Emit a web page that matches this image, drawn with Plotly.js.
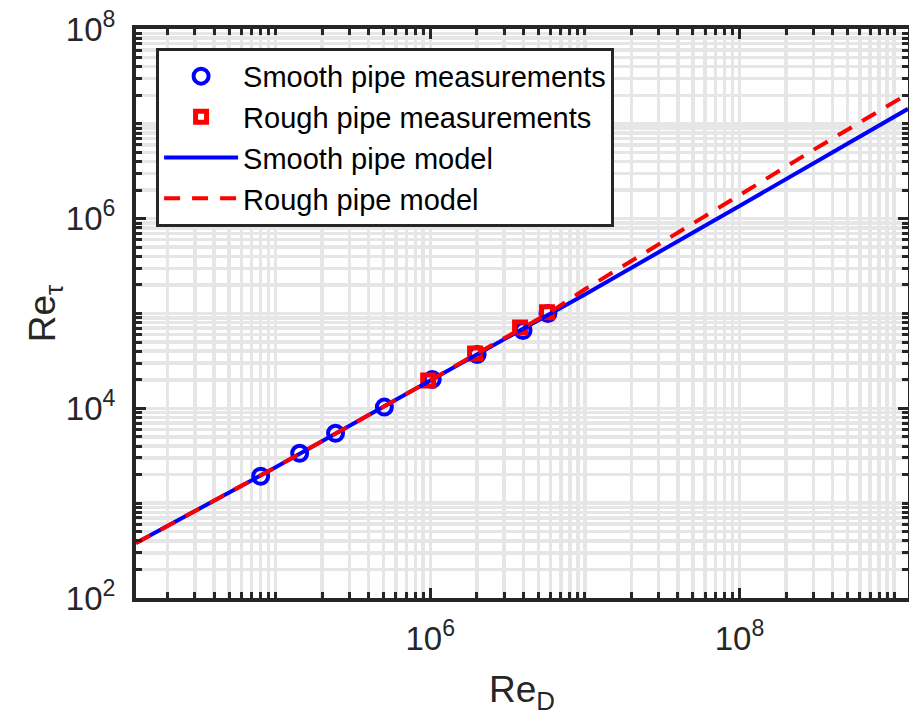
<!DOCTYPE html>
<html>
<head>
<meta charset="utf-8">
<script src="https://cdn.plot.ly/plotly-3.0.1.min.js"></script>
<style>html,body{margin:0;padding:0;background:#fff;}#chart{width:909px;height:726px;}</style>
</head>
<body>
<div id="chart"></div>
<script>
// Measurements
const smoothReD   = [8.0e4, 1.43e5, 2.44e5, 5.05e5, 1.03e6, 2.01e6, 3.98e6, 5.77e6];
const smoothRetau = [1923, 3357, 5458, 10300, 20200, 37000, 66200, 100000];
const roughReD    = [9.7e5, 1.95e6, 3.81e6, 5.69e6];
const roughRetau  = [19700, 37900, 71200, 103000];
// Models
const smoothModelReD   = [1.25e4, 1e5, 1e6, 1e7, 1e8, 5.9e8, 1.23e9];
const smoothModelRetau = [380, 2390, 19700, 159000, 1360000, 7200000, 14400000];
const roughModelReD    = [1.25e4, 1e5, 1e6, 2e6, 4e6, 6e6, 1e7, 3e7, 1e8, 3e8, 5.9e8, 1.23e9];
const roughModelRetau  = [380, 2390, 19700, 38000, 71000, 104000, 180000, 530000, 1770000, 5300000, 10300000, 20700000];
// Tick labels
const xTickVals = [1e6, 1e8];
const xTickText = ['10<sup>6</sup>', '10<sup>8</sup>'];
const yTickVals = [1e2, 1e4, 1e6, 1e8];
const yTickText = ['10<sup>2</sup>', '10<sup>4</sup>', '10<sup>6</sup>', '10<sup>8</sup>'];

function minorVals(k0, k1, majors) {
  const out = [];
  for (let k = k0; k <= k1; k++) {
    for (let m = 1; m <= 9; m++) {
      const v = m * Math.pow(10, k);
      if (!majors.some(t => Math.abs(t - v) / v < 1e-9)) out.push(v);
    }
  }
  return out;
}

const FONT = 'Liberation Sans, Arial, Helvetica, sans-serif';
const DARK = '#262626';
const GRID = '#e6e6e6';

const traces = [
  {x: smoothModelReD, y: smoothModelRetau, mode: 'lines', name: 'Smooth pipe model',
   line: {color: '#0000ff', width: 4}},
  {x: roughModelReD, y: roughModelRetau, mode: 'lines', name: 'Rough pipe model',
   line: {color: '#ff0000', width: 4, dash: '16px,12px'}},
  {x: smoothReD, y: smoothRetau, mode: 'markers', name: 'Smooth pipe measurements',
   marker: {symbol: 'circle-open', size: 15, color: '#0000ff', line: {color: '#0000ff', width: 4}}},
  {x: roughReD, y: roughRetau, mode: 'markers', name: 'Rough pipe measurements',
   marker: {symbol: 'square-open', size: 11, color: '#ff0000', line: {color: '#ff0000', width: 5}}}
];

const layout = {
  width: 909, height: 726,
  margin: {l: 136, r: 1, t: 29, b: 128},
  paper_bgcolor: '#fff', plot_bgcolor: '#fff',
  font: {family: FONT, color: DARK, size: 29},
  showlegend: true,
  legend: {
    x: 0.026, y: 0.967, xanchor: 'left', yanchor: 'top',
    bgcolor: '#fff', bordercolor: DARK, borderwidth: 3,
    font: {family: FONT, size: 29, color: '#000'},
    traceorder: 'normal', itemwidth: 74,
  },
  xaxis: {
    type: 'log', range: [Math.log10(1.25e4), Math.log10(1.23e9)],
    tickmode: 'array', tickvals: xTickVals, ticktext: xTickText,
    ticks: 'inside', ticklen: 10, tickwidth: 3, tickcolor: DARK,
    showline: true, linecolor: DARK, linewidth: 4, mirror: 'ticks',
    showgrid: true, gridcolor: GRID, gridwidth: 3.5,
    tickfont: {family: FONT, size: 33, color: DARK},
    ticklabelstandoff: 8,
    minor: {tickmode: 'array', tickvals: minorVals(4, 9, xTickVals), ticks: 'inside', ticklen: 6,
            tickwidth: 3, tickcolor: DARK, showgrid: true, gridcolor: GRID, gridwidth: 3.5},
    title: {text: 'Re<sub>D</sub>', font: {family: FONT, size: 37, color: DARK}, standoff: 22},
    zeroline: false
  },
  yaxis: {
    type: 'log', range: [2, 8],
    tickmode: 'array', tickvals: yTickVals, ticktext: yTickText,
    ticks: 'inside', ticklen: 10, tickwidth: 3, tickcolor: DARK,
    showline: true, linecolor: DARK, linewidth: 4, mirror: 'ticks',
    showgrid: true, gridcolor: GRID, gridwidth: 3.5,
    tickfont: {family: FONT, size: 33, color: DARK},
    ticklabelstandoff: 10,
    minor: {tickmode: 'array', tickvals: minorVals(2, 7, yTickVals), ticks: 'inside', ticklen: 6,
            tickwidth: 3, tickcolor: DARK, showgrid: true, gridcolor: GRID, gridwidth: 3.5},
    title: {text: 'Re<sub>τ</sub>', font: {family: FONT, size: 37, color: DARK}, standoff: 0},
    zeroline: false
  }
};

// legend order: measurements first, then models
const ordered = [traces[2], traces[3], traces[0], traces[1]];
Plotly.newPlot('chart', ordered, layout, {displayModeBar: false, staticPlot: true});
</script>
</body>
</html>
